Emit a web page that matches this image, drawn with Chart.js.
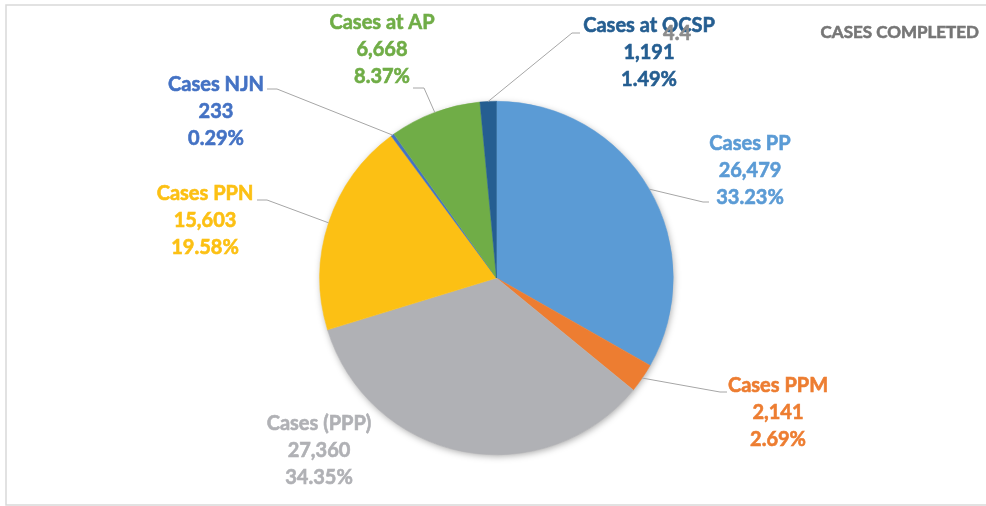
<!DOCTYPE html>
<html>
<head>
<meta charset="utf-8">
<script src="https://cdn.jsdelivr.net/npm/chart.js@4/dist/chart.umd.min.js"></script>
<style>
  body { margin: 0; background: #ffffff; }
  #wrap { width: 986px; height: 506px; }
</style>
</head>
<body>
<div id="wrap"><canvas id="casesChart" width="986" height="506"></canvas></div>
<script>
const categorias = ['Cases PP', 'Cases PPM', 'Cases (PPP)', 'Cases PPN', 'Cases NJN', 'Cases at AP', 'Cases at OCSP'];
const casos = [26479, 2141, 27360, 15603, 233, 6668, 1191];
const percentuais = ['33.23%', '2.69%', '34.35%', '19.58%', '0.29%', '8.37%', '1.49%'];
const cores = ['#5B9BD5', '#ED7D31', '#B0B1B5', '#FCC014', '#4472C4', '#70AD47', '#255E91'];
const titulo = 'CASES COMPLETED';
const textoSolto = '4.4';

// posicao dos rotulos: [x, y da primeira linha, cotovelo x, cotovelo y, fim x]
const posRotulos = [
  [750, 144, 703, 202, 709],
  [778, 386, 720, 392, 727],
  [319, 424, null, null, null],
  [205, 194, 267, 200, 257],
  [216, 85, 277, 89, 267],
  [382, 23, 424, 88, 413],
  [649, 26, 572, 33, 580]
];

function textoGrosso(ctx, txt, x, y) {
  ctx.fillText(txt, x, y);
  ctx.strokeText(txt, x, y);
}

const rotulosPlugin = {
  id: 'rotulos',
  beforeDraw(chart) {
    const ctx = chart.ctx;
    ctx.save();
    ctx.strokeStyle = '#D9D9D9';
    ctx.lineWidth = 1.5;
    ctx.strokeRect(6, 5, 1000, 500);
    ctx.restore();
  },
  beforeDatasetsDraw(chart) {
    const ctx = chart.ctx;
    ctx.save();
    ctx.shadowColor = 'rgba(0,0,0,0.35)';
    ctx.shadowBlur = 7;
    ctx.shadowOffsetX = 1;
    ctx.shadowOffsetY = 2;
    const arc = chart.getDatasetMeta(0).data[0];
    ctx.fillStyle = '#ffffff';
    ctx.beginPath();
    ctx.arc(arc.x, arc.y, arc.outerRadius - 0.5, 0, Math.PI * 2);
    ctx.fill();
    ctx.restore();
  },
  afterDatasetsDraw(chart) {
    const ctx = chart.ctx;
    const arcos = chart.getDatasetMeta(0).data;
    ctx.save();

    // linhas de ligacao
    ctx.strokeStyle = '#A6A6A6';
    ctx.lineWidth = 1;
    arcos.forEach((a, i) => {
      const p = posRotulos[i];
      if (p[2] === null) return;
      const meio = (a.startAngle + a.endAngle) / 2;
      const x0 = a.x + Math.cos(meio) * a.outerRadius;
      const y0 = a.y + Math.sin(meio) * a.outerRadius;
      ctx.beginPath();
      ctx.moveTo(x0, y0);
      ctx.lineTo(p[2], p[3]);
      ctx.lineTo(p[4], p[3]);
      ctx.stroke();
    });

    // textos
    ctx.textAlign = 'center';
    ctx.textBaseline = 'middle';
    ctx.font = 'bold 20px Lato';
    ctx.lineWidth = 0.6;
    casos.forEach((v, i) => {
      const p = posRotulos[i];
      ctx.fillStyle = cores[i];
      ctx.strokeStyle = cores[i];
      textoGrosso(ctx, categorias[i], p[0], p[1]);
      textoGrosso(ctx, v.toLocaleString('en-US'), p[0], p[1] + 27);
      textoGrosso(ctx, percentuais[i], p[0], p[1] + 54);
    });

    ctx.fillStyle = '#8C8C8C';
    ctx.strokeStyle = '#8C8C8C';
    textoGrosso(ctx, textoSolto, 677, 34);

    ctx.fillStyle = '#767676';
    ctx.strokeStyle = '#767676';
    ctx.font = 'bold 17px Lato';
    ctx.textAlign = 'right';
    textoGrosso(ctx, titulo, 979, 33);
    ctx.restore();
  }
};

new Chart(document.getElementById('casesChart').getContext('2d'), {
  type: 'pie',
  data: {
    labels: categorias,
    datasets: [{
      data: casos,
      backgroundColor: cores,
      borderColor: cores,
      borderWidth: 0.5
    }]
  },
  options: {
    responsive: false,
    animation: false,
    layout: { padding: { top: 101, bottom: 51, left: 7, right: 0 } },
    plugins: {
      legend: { display: false },
      tooltip: { enabled: false }
    }
  },
  plugins: [rotulosPlugin]
});
</script>
</body>
</html>
